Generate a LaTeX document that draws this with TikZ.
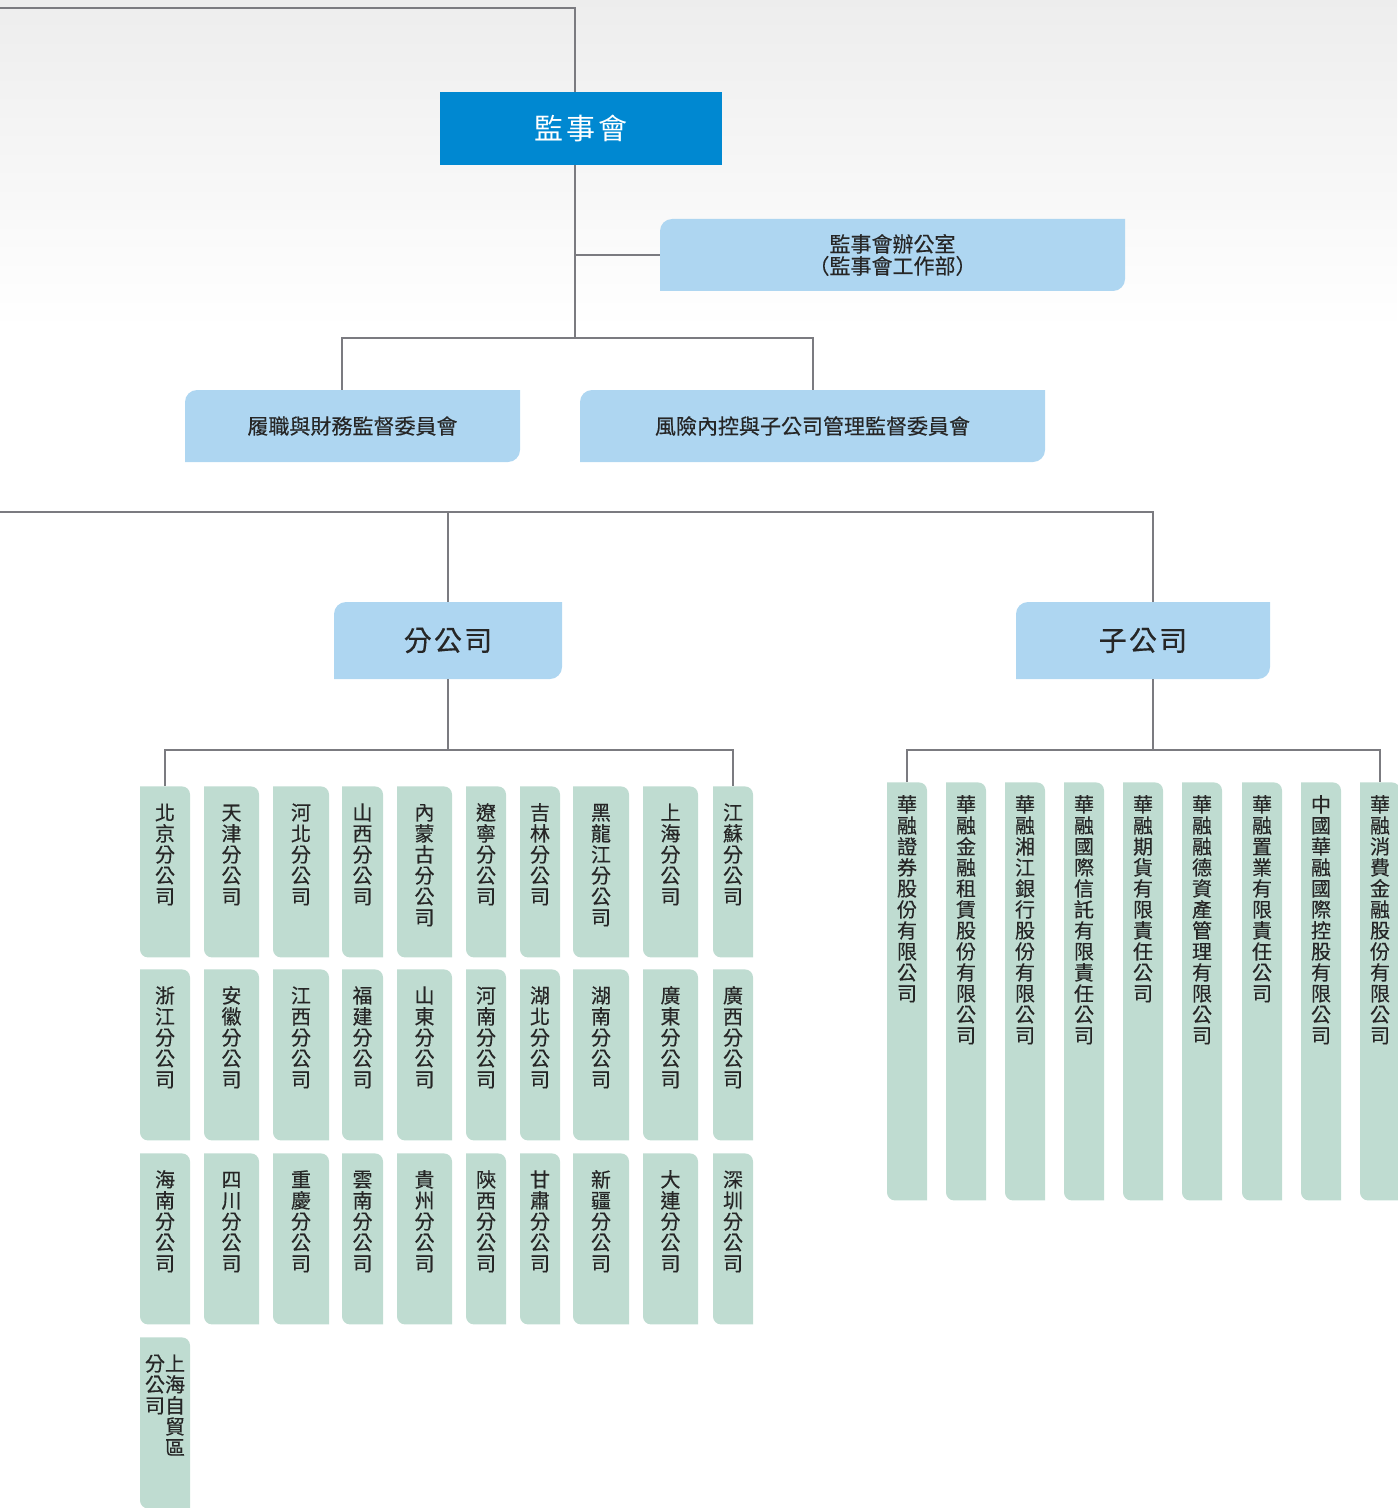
\documentclass[tikz,border=0pt]{standalone}
\usepackage{fontspec}
\newfontfamily\cjk{Noto Sans CJK TC}
\newfontfamily\cjkdark{Noto Sans CJK TC}[FakeBold=0.35]
\usepackage{xcolor}
\definecolor{boardblue}{HTML}{0088D1}
\definecolor{paleblue}{HTML}{AED6F1}
\definecolor{palegreen}{HTML}{BFDCD1}
\definecolor{linkgray}{HTML}{7B7B80}
\definecolor{inkgray}{HTML}{262626}
\usepackage{tikz}
\usetikzlibrary{positioning, calc}

% stack CJK characters one under another
\makeatletter
\newcommand\vchars[1]{\edef\vc@list{#1}%
  \vtop{\expandafter\@tfor\expandafter\vc@ch\expandafter:\expandafter=\vc@list\do{\hbox to 1em{\hss\vc@ch\hss}}}}
\makeatother

\tikzset{
  link/.style={draw=linkgray, line width=1pt},
  board/.style={fill=boardblue, text=white, inner sep=0pt,
    minimum width=141pt, minimum height=36.5pt,
    font=\cjk\fontsize{14.5pt}{14.5pt}\selectfont\addfontfeature{LetterSpace=12}},
  panel/.style={inner sep=0pt, minimum height=36pt, align=center, text=inkgray,
    font=\cjkdark\fontsize{10.5pt}{11pt}\selectfont,
    path picture={
      \fill[paleblue] (path picture bounding box.south west)
        -- ([yshift=-6pt]path picture bounding box.north west)
        arc[start angle=180, end angle=90, radius=6pt]
        -- (path picture bounding box.north east)
        -- ([yshift=6pt]path picture bounding box.south east)
        arc[start angle=0, end angle=-90, radius=6pt] -- cycle;}},
  head/.style={minimum height=38.5pt,
    font=\cjkdark\fontsize{14pt}{14pt}\selectfont\addfontfeature{LetterSpace=8}},
  unit/.style={anchor=north, inner sep=0pt, minimum width=#1, text=inkgray,
    font=\cjkdark\fontsize{10pt}{10.5pt}\selectfont,
    text height=16.8pt, text depth=68.7pt,
    path picture={
      \fill[palegreen] (path picture bounding box.north west)
        -- ([xshift=-4pt]path picture bounding box.north east)
        arc[start angle=90, end angle=0, radius=4pt]
        -- (path picture bounding box.south east)
        -- ([xshift=4pt]path picture bounding box.south west)
        arc[start angle=270, end angle=180, radius=4pt] -- cycle;}},
  firm/.style={unit=20pt, text height=14.8pt, text depth=194.2pt}
}

\begin{document}
\begin{tikzpicture}[x=0.5pt, y=-0.5pt]
  \useasboundingbox (0,0) rectangle (1397,1508);
  % paper texture at the top
  \shade[top color=black!7, bottom color=white] (0,0) rectangle (1397,330);

  % board and committees
  \node[board] (board) at (581,128.5) {監事會};
  \node[panel, minimum width=232.5pt] (office) at (892.5,255) {監事會辦公室\\（監事會工作部）};
  \node[panel, minimum width=167.5pt] (duty) at (352.5,426) {履職與財務監督委員會};
  \node[panel, minimum width=232.5pt] (risk) at (812.5,426) {風險內控與子公司管理監督委員會};

  % the two groups
  \node[panel, head, minimum width=114pt] (branch) at (448,640.5) {分公司};
  \node[panel, head, minimum width=127pt] (sub) at (1143,640.5) {子公司};

  % branches
  \foreach \cx/\w/\city [count=\i] in {165/25/北京, 231.5/27.5/天津, 301/28/河北, 362.5/20.5/山西, 424.5/27.5/內蒙古, 486/20/遼寧, 540/20/吉林, 601/28/黑龍江, 670.5/27.5/上海, 733/20/江蘇}
    \node[unit=\w pt] (br-\i) at (\cx,786) {\vchars{\city 分公司}};
  \foreach \cx/\w/\city [count=\i from 11] in {165/25/浙江, 231.5/27.5/安徽, 301/28/江西, 362.5/20.5/福建, 424.5/27.5/山東, 486/20/河南, 540/20/湖北, 601/28/湖南, 670.5/27.5/廣東, 733/20/廣西}
    \node[unit=\w pt] (br-\i) at (\cx,969) {\vchars{\city 分公司}};
  \foreach \cx/\w/\city [count=\i from 21] in {165/25/海南, 231.5/27.5/四川, 301/28/重慶, 362.5/20.5/雲南, 424.5/27.5/貴州, 486/20/陝西, 540/20/甘肅, 601/28/新疆, 670.5/27.5/大連, 733/20/深圳}
    \node[unit=\w pt] (br-\i) at (\cx,1153) {\vchars{\city 分公司}};
  \node[unit=25pt] (br-31) at (165,1337) {\vchars{分公司}\vchars{上海自貿區}};

  % subsidiaries
  \foreach \cx/\firm [count=\i] in {907/華融證券股份有限公司, 966/華融金融租賃股份有限公司, 1025/華融湘江銀行股份有限公司, 1084/華融國際信託有限責任公司, 1143/華融期貨有限責任公司, 1202/華融融德資產管理有限公司, 1262/華融置業有限責任公司, 1321/中國華融國際控股有限公司, 1380/華融消費金融股份有限公司}
    \node[firm] (sub-\i) at (\cx,782) {\vchars{\firm}};

  % connectors
  \coordinate (feed) at (0,8);
  \coordinate (feed2) at (0,512);
  \coordinate (spine) at (575,338);
  \coordinate (bbus) at (448,750);
  \coordinate (sbus) at (1153,750);

  \draw[link] (feed) -| (board.north -| spine);
  \draw[link] (board.south -| spine) -- (spine);
  \draw[link] (office.west) -- (office.west -| spine);
  \draw[link] ([xshift=-5.25pt]duty.north) |- (spine) -| (risk.north);

  \draw[link] (feed2) -| ([xshift=5pt]sub.north);
  \draw[link] (branch.north) -- (branch.north |- feed2);

  \draw[link] (branch.south) -- (bbus);
  \draw[link] (br-1.north) |- (bbus) -| (br-10.north);
  \draw[link] ([xshift=5pt]sub.south) -- (sbus);
  \draw[link] (sub-1.north) |- (sbus) -| (sub-9.north);
\end{tikzpicture}
\end{document}
